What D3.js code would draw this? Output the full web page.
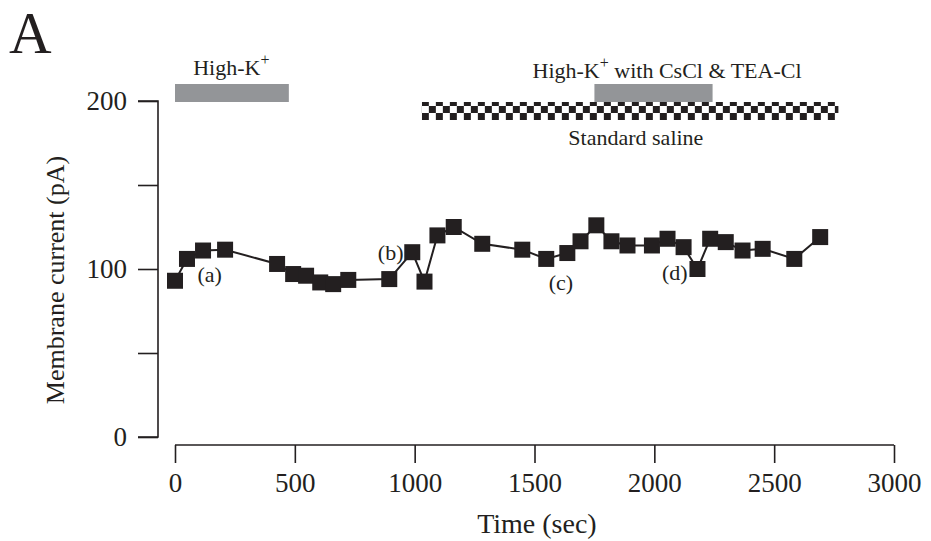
<!DOCTYPE html>
<html>
<head>
<meta charset="utf-8">
<script src="https://cdn.jsdelivr.net/npm/d3@7"></script>
<style>
  body { margin: 0; background: #fff; }
  text { font-family: "Liberation Serif", "Times New Roman", serif; fill: #231f20; }
</style>
</head>
<body>
<svg id="chart" width="931" height="541"></svg>
<script>
// time (sec) and membrane current (pA)
var times = [0, 50, 117, 209, 426, 493, 547, 606, 660, 723, 894, 990, 1041, 1095, 1163, 1282,
    1449, 1549, 1637, 1692, 1758, 1821, 1888, 1990, 2055, 2122, 2180, 2233, 2298, 2368, 2452, 2584, 2692];
var currents = [93, 106, 111, 111.5, 103, 97, 96, 92, 91, 93.5, 94, 110, 92.5, 120, 125, 115,
    111.5, 106, 109.5, 116.5, 126, 116.5, 114, 114, 118, 113, 100, 118, 116, 111, 112, 106, 119];

var xTicks = [0, 500, 1000, 1500, 2000, 2500, 3000];
var yTicks = [0, 50, 100, 150, 200];
var yLabelled = [0, 100, 200];

// point labels: text, time, current
var noteLabels = ["(a)", "(b)", "(c)", "(d)"];
var noteTimes = [145, 900, 1610, 2085];
var noteValues = [97, 110, 92, 98];

// perfusion protocol bars (sec)
var solidBars = [[0, 475], [1750, 2243]];
var salineBar = [1030, 2768];

var svg = d3.select("#chart");
var ink = "#231f20";

var x = d3.scaleLinear().domain([0, 3000]).range([175, 894]);
var y = d3.scaleLinear().domain([0, 200]).range([437, 101]);

var data = times.map(function (t, i) {
    return {t: t, v: currents[i]};
});

// checker pattern
var cell = 7;
var pat = svg.append("defs").append("pattern")
    .attr("id", "checker")
    .attr("patternUnits", "userSpaceOnUse")
    .attr("x", x(salineBar[0]))
    .attr("y", 99)
    .attr("width", cell * 2)
    .attr("height", cell * 2);
pat.append("rect").attr("width", cell * 2).attr("height", cell * 2).attr("fill", "#fff");
pat.append("rect").attr("width", cell).attr("height", cell).attr("fill", ink);
pat.append("rect").attr("x", cell).attr("y", cell).attr("width", cell).attr("height", cell).attr("fill", ink);

// panel letter
svg.append("text")
    .attr("x", 9)
    .attr("y", 53)
    .style("font-size", "59px")
    .text("A");

// axes
var axisY = d3.axisLeft(y)
    .tickValues(yTicks)
    .tickSize(20)
    .tickPadding(11)
    .tickFormat(function (d) {
        return yLabelled.indexOf(d) >= 0 ? d3.format("d")(d) : "";
    });

var gy = svg.append("g")
    .attr("transform", "translate(158,0)")
    .call(axisY);

var axisX = d3.axisBottom(x)
    .tickValues(xTicks)
    .tickSize(18)
    .tickPadding(10)
    .tickFormat(d3.format("d"));

var gx = svg.append("g")
    .attr("transform", "translate(0,445)")
    .call(axisX);

[gx, gy].forEach(function (g) {
    g.select(".domain").attr("stroke", ink).attr("stroke-width", 1.6);
    g.selectAll(".tick line").attr("stroke", ink).attr("stroke-width", 1.6);
    g.selectAll(".tick text")
        .attr("fill", ink)
        .style("font-family", "Liberation Serif, serif")
        .style("font-size", "27px");
});
gy.select(".domain").attr("d", "M-20," + y(200) + "H0V" + y(0) + "H-20");
gx.select(".domain").attr("d", "M" + x(0) + ",0H" + x(3000));

svg.append("text")
    .attr("transform", "translate(64,280) rotate(-90)")
    .attr("text-anchor", "middle")
    .style("font-size", "26px")
    .text("Membrane current (pA)");

svg.append("text")
    .attr("x", x(1510))
    .attr("y", 533)
    .attr("text-anchor", "middle")
    .style("font-size", "28px")
    .text("Time (sec)");

// protocol bars
svg.append("rect")
    .attr("x", x(salineBar[0]))
    .attr("y", 102)
    .attr("width", x(salineBar[1]) - x(salineBar[0]))
    .attr("height", 18)
    .attr("fill", "url(#checker)");

svg.selectAll(".solid")
    .data(solidBars)
    .enter().append("rect")
    .attr("class", "solid")
    .attr("x", function (d) { return x(d[0]); })
    .attr("y", 84)
    .attr("width", function (d) { return x(d[1]) - x(d[0]); })
    .attr("height", 18)
    .attr("fill", "#939598");

var k1 = svg.append("text")
    .attr("x", x(235))
    .attr("y", 75)
    .attr("text-anchor", "middle")
    .style("font-size", "22px");
k1.append("tspan").text("High-K");
k1.append("tspan").attr("dy", -10).style("font-size", "16px").text("+");

var k2 = svg.append("text")
    .attr("x", x(2053))
    .attr("y", 78)
    .attr("text-anchor", "middle")
    .style("font-size", "22px");
k2.append("tspan").text("High-K");
k2.append("tspan").attr("dy", -10).style("font-size", "16px").text("+");
k2.append("tspan").attr("dy", 10).text(" with CsCl & TEA-Cl");

svg.append("text")
    .attr("x", x(1923))
    .attr("y", 145)
    .attr("text-anchor", "middle")
    .style("font-size", "22px")
    .text("Standard saline");

// trace
var line = d3.line()
    .x(function (d) { return x(d.t); })
    .y(function (d) { return y(d.v); });

svg.append("path")
    .datum(data)
    .attr("fill", "none")
    .attr("stroke", ink)
    .attr("stroke-width", 2)
    .attr("d", line);

var size = 16;
svg.selectAll(".pt")
    .data(data)
    .enter().append("rect")
    .attr("class", "pt")
    .attr("x", function (d) { return x(d.t) - size / 2; })
    .attr("y", function (d) { return y(d.v) - size / 2; })
    .attr("width", size)
    .attr("height", size)
    .attr("fill", ink);

svg.selectAll(".note")
    .data(noteLabels)
    .enter().append("text")
    .attr("class", "note")
    .attr("x", function (d, i) { return x(noteTimes[i]); })
    .attr("y", function (d, i) { return y(noteValues[i]); })
    .attr("dy", "0.35em")
    .attr("text-anchor", "middle")
    .style("font-size", "22px")
    .text(function (d) { return d; });
</script>
</body>
</html>
